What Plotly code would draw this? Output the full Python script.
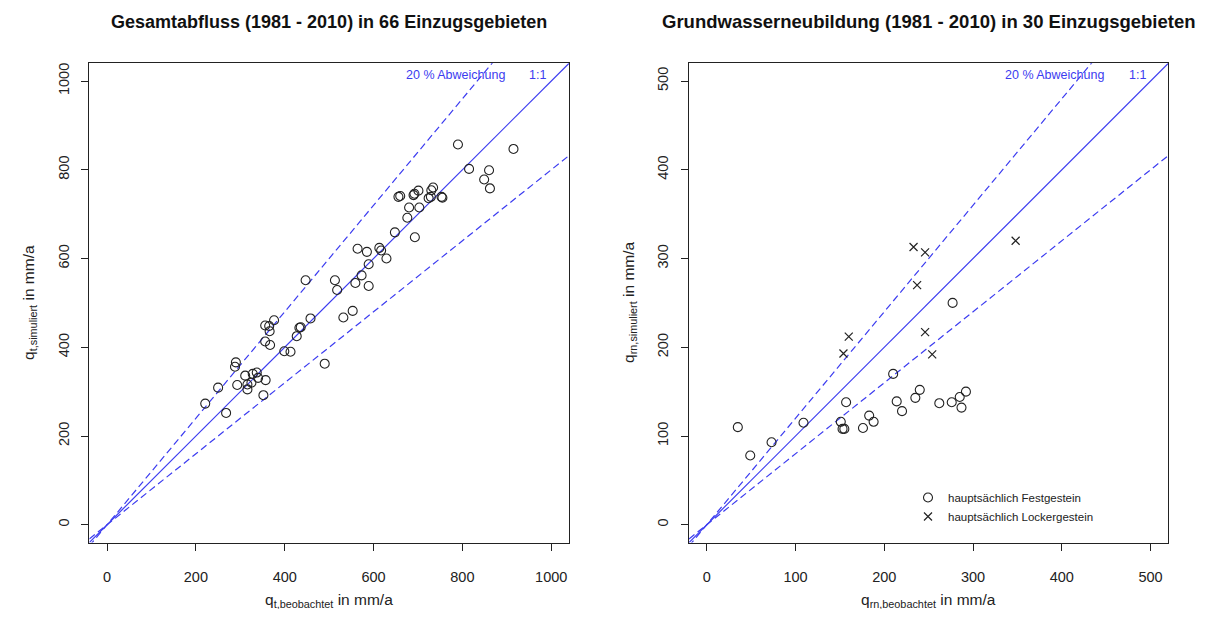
import plotly.graph_objects as go

# ---- data: Gesamtabfluss (left) ----
qt_obs = [221, 250, 268, 290, 288, 293, 311, 316, 316, 325, 328, 337, 340, 357, 352,
          356, 365, 366, 376, 356, 367, 399, 413, 427, 433, 436, 447, 458, 490, 513,
          518, 532, 553, 559, 564, 585, 589, 573, 589, 613, 617, 629, 790, 915, 815,
          860, 849, 862, 656, 660, 690, 692, 701, 734, 730, 724, 729, 753, 755, 680,
          703, 676, 648, 693]
qt_sim = [273, 309, 252, 366, 356, 315, 336, 305, 316, 320, 340, 343, 331, 326, 292,
          449, 448, 436, 461, 413, 405, 391, 390, 425, 444, 445, 551, 465, 363, 551,
          529, 467, 482, 545, 622, 615, 587, 562, 538, 624, 618, 600, 857, 847, 802,
          799, 778, 758, 739, 741, 743, 746, 753, 760, 754, 736, 739, 739, 737, 715,
          715, 692, 659, 648]

# ---- data: Grundwasserneubildung (right) ----
fest_obs = [35, 49, 73, 109, 151, 153, 155, 157, 176, 183, 188, 210, 214, 220, 235,
            240, 262, 276, 277, 285, 287, 292]
fest_sim = [110, 78, 93, 115, 116, 108, 108, 138, 109, 123, 116, 170, 139, 128, 143,
            152, 137, 138, 250, 144, 132, 150]
locker_obs = [233, 246, 237, 160, 154, 246, 254, 348]
locker_sim = [313, 307, 270, 212, 193, 217, 192, 320]

deviation = 0.2
left_range = [-40, 1040]
right_range = [-20, 520]
left_ticks = [0, 200, 400, 600, 800, 1000]
right_ticks = [0, 100, 200, 300, 400, 500]

BLUE = "#3c3cf0"
FONT = "Liberation Sans, Arial, sans-serif"

# page body has an 8px margin: figure is drawn inside it
OFF = 8
W, H = 1209 - 2 * OFF, 617 - 2 * OFF


def px(s):
    return (s - OFF) / W


def py(s):
    return 1 - (s - OFF) / H


fig = go.Figure()


def ref_lines(xa, ya, rng):
    xs = [rng[0], rng[1]]
    for f, dash in [(1.0, "solid"), (1 + deviation, "7px,4px"), (1 - deviation, "7px,4px")]:
        fig.add_trace(go.Scatter(x=xs, y=[v * f for v in xs], mode="lines",
                                 line=dict(color=BLUE, width=1.2, dash=dash),
                                 xaxis=xa, yaxis=ya, showlegend=False, hoverinfo="skip"))


ref_lines("x", "y", left_range)
ref_lines("x2", "y2", right_range)

fig.add_trace(go.Scatter(x=qt_obs, y=qt_sim, mode="markers", xaxis="x", yaxis="y",
                         marker=dict(symbol="circle-open", size=9, color="#222",
                                     line=dict(width=1.1, color="#222")),
                         showlegend=False))
fig.add_trace(go.Scatter(x=fest_obs, y=fest_sim, mode="markers", xaxis="x2", yaxis="y2",
                         name="hauptsächlich Festgestein",
                         marker=dict(symbol="circle-open", size=9, color="#222",
                                     line=dict(width=1.1, color="#222"))))
fig.add_trace(go.Scatter(x=locker_obs, y=locker_sim, mode="markers", xaxis="x2", yaxis="y2",
                         name="hauptsächlich Lockergestein",
                         marker=dict(symbol="x-thin-open", size=8, color="#222",
                                     line=dict(width=1.2, color="#222"))))

ytop = py(63.3)
ybot = py(542.5)
dom_l = [px(89.3), px(569)]
dom_r = [px(689), px(1168.3)]

axis_common = dict(showline=True, mirror=True, linecolor="#222", linewidth=1,
                   ticks="outside", ticklen=7, tickwidth=1, tickcolor="#222",
                   showgrid=False, zeroline=False,
                   tickfont=dict(family=FONT, size=14.5, color="#222"))

fig.update_layout(
    width=W, height=H, plot_bgcolor="white", paper_bgcolor="white",
    margin=dict(l=0, r=0, t=0, b=0),
    font=dict(family=FONT, color="#222"),
    xaxis=dict(domain=dom_l, range=left_range, tickvals=left_ticks, anchor="y",
               ticklabelstandoff=14, **axis_common),
    yaxis=dict(domain=[ybot, ytop], range=left_range, tickvals=left_ticks, anchor="x",
               tickangle=-90, ticklabelstandoff=7, **axis_common),
    xaxis2=dict(domain=dom_r, range=right_range, tickvals=right_ticks, anchor="y2",
                ticklabelstandoff=14, **axis_common),
    yaxis2=dict(domain=[ybot, ytop], range=right_range, tickvals=right_ticks, anchor="x2",
                tickangle=-90, ticklabelstandoff=7, **axis_common),
    legend=dict(x=px(908), y=py(483), xanchor="left", yanchor="top",
                bgcolor="rgba(0,0,0,0)", font=dict(family=FONT, size=11.5, color="#222"),
                itemwidth=30, tracegroupgap=0),
    showlegend=True,
)

ann = []


def text(t, x, y, size, color="#222", angle=0):
    ann.append(dict(text=t, x=x, y=y, xref="paper", yref="paper", showarrow=False,
                    xanchor="center", yanchor="middle", textangle=angle,
                    font=dict(size=size, family=FONT, color=color)))


# titles
text("<b>Gesamtabfluss (1981 - 2010) in 66 Einzugsgebieten</b>",
     (dom_l[0] + dom_l[1]) / 2, py(22), 18, "#111")
text("<b>Grundwasserneubildung (1981 - 2010) in 30 Einzugsgebieten</b>",
     (dom_r[0] + dom_r[1]) / 2, py(22), 18.5, "#111")
# axis titles
text("q<sub>t,beobachtet</sub> in mm/a", (dom_l[0] + dom_l[1]) / 2, py(600), 15.5)
text("q<sub>rn,beobachtet</sub> in mm/a", (dom_r[0] + dom_r[1]) / 2, py(600), 15.5)
text("q<sub>t,simuliert</sub> in mm/a", px(30), (ybot + ytop) / 2, 15.5, angle=-90)
text("q<sub>rn,simuliert</sub> in mm/a", px(630), (ybot + ytop) / 2, 15.5, angle=-90)
# reference line labels
for x20, x11 in [(455, 537), (1054, 1137)]:
    text("20 % Abweichung", px(x20), py(75), 12.5, BLUE)
    text("1:1", px(x11), py(75), 12.5, BLUE)
fig.update_layout(annotations=ann)

fig.write_html("out.html")
